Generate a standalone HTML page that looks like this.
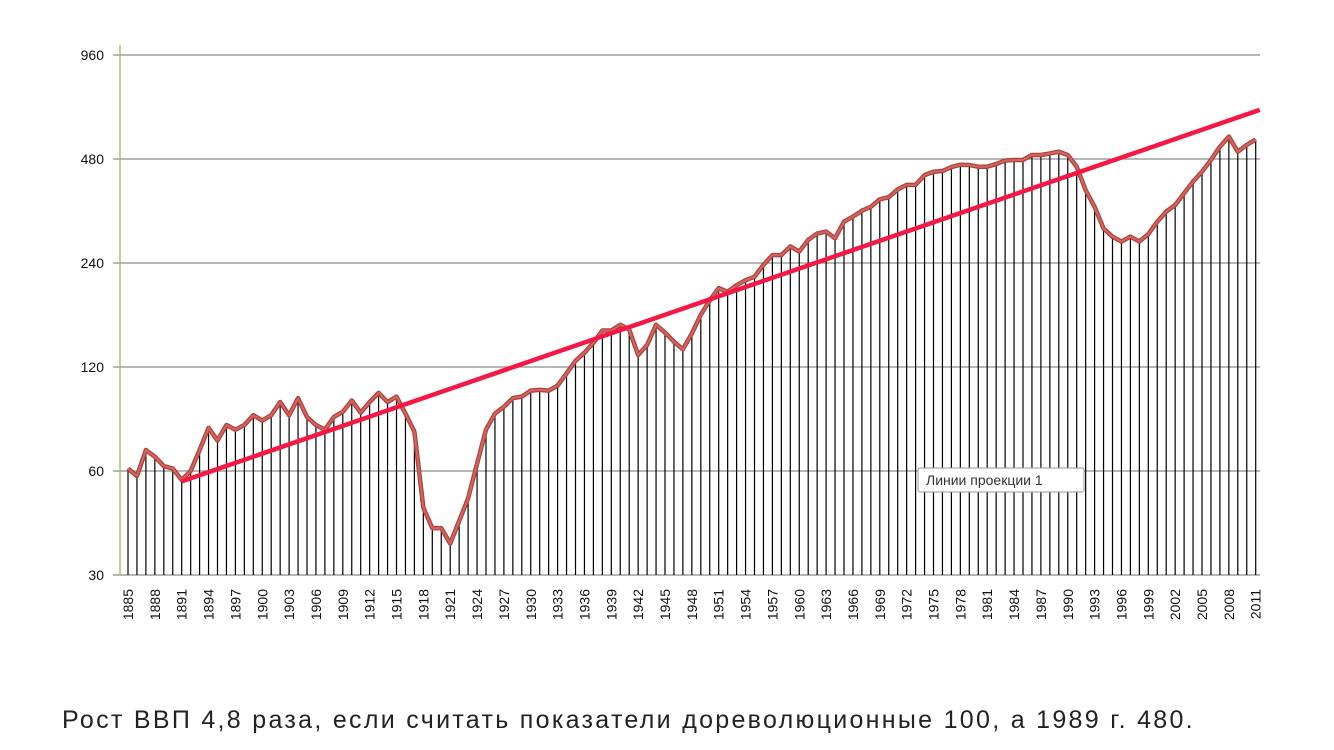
<!DOCTYPE html>
<html><head><meta charset="utf-8">
<style>
body{margin:0;width:1334px;height:750px;background:#fff;overflow:hidden;position:relative;font-family:"Liberation Sans",sans-serif}
#title{position:absolute;left:62px;top:-34px;font-size:32px;color:#222;white-space:nowrap}
#caption{position:absolute;left:62px;top:706px;font-size:25px;letter-spacing:2.3px;color:#222;white-space:nowrap}
</style></head><body>
<div id="title">Рост ВВП России за 126 лет</div>
<svg id="chart" width="1334" height="700" style="position:absolute;left:0;top:0"></svg>
<div id="caption">Рост ВВП 4,8 раза, если считать показатели дореволюционные 100, а 1989 г. 480.</div>
<script>
const startYear = 1885;
const values = [61,58,69,66,62,61,56.5,60,69,80,73.5,81.5,79,81.5,87,84,87,95,87,97.5,86,81.5,79,86,89,96,88.5,95,101,95,98.5,88,78,47,41,41,37,43,50,63,79,88,92,97.5,98.5,102.5,103,102.5,106,115,125,132,141,153,153,159,154,130,139,159,151,142,135,150,170,187,203,198,207,214,219,237,253,253,268,259,280,292,296,283,316,327,340,349,367,372,392,404,404,431,441,443,455,462,461,456,456,464,475,477,477,493,493,498,504,493,456,390,349,302,286,277,286,277,291,316,338,353,382,413,441,477,521,557,504,527,547];
const yTicks = [30,60,120,240,480,960];
const trendYears = [1891,2011];
const trendValues = [56,666];
const NS="http://www.w3.org/2000/svg";
const svg=document.getElementById('chart');
const x0=128, pxYear=8.95, yBase=575, pxDouble=104;
const X=yr=>x0+(yr-startYear)*pxYear;
const Y=v=>yBase-pxDouble*Math.log2(v/30);
function mk(t,a){const e=document.createElementNS(NS,t);for(const k in a)e.setAttribute(k,a[k]);svg.appendChild(e);return e;}
yTicks.forEach(t=>{
  const g=mk('line',{x1:113,x2:1260,y1:Y(t),y2:Y(t),stroke:'#8c8c8c','stroke-width':1.3});
  
  
  const l=mk('text',{x:104,y:Y(t)+5,'text-anchor':'end','font-size':14,fill:'#111'});
  l.textContent=t;
  
  
});
const ax=mk('line',{x1:120,x2:120,y1:45,y2:yBase,stroke:'#9bbb59','stroke-width':1.3});


values.forEach((v,i)=>{
  const d=mk('line',{x1:X(startYear+i),x2:X(startYear+i),y1:Y(v),y2:yBase,stroke:'#000','stroke-width':1.2});
  
  
  const yr=startYear+i;
  if((yr-startYear)%3===0){
    const t=mk('text',{x:0,y:0,'text-anchor':'end','font-size':14,fill:'#111',transform:`translate(${X(yr)+5},${yBase+14}) rotate(-90)`});
    t.textContent=yr;
    
    
  }
});
const pts=values.map((v,i)=>X(startYear+i)+','+Y(v)).join(' ');
const s1=mk('polyline',{points:pts,fill:'none',stroke:'#a8443f','stroke-width':4.5,'stroke-linejoin':'round'});


const s2=mk('polyline',{points:pts,fill:'none',stroke:'#d9625c','stroke-width':2,'stroke-linejoin':'round'});


const tr=mk('line',{x1:X(trendYears[0]),y1:Y(trendValues[0]),x2:X(trendYears[1])+4,y2:Y(trendValues[1]),stroke:'#f51844','stroke-width':4.5});


const tb=mk('rect',{x:918,y:468,width:166,height:24,fill:'#fff',stroke:'#999','stroke-width':1,rx:2});


const tt=mk('text',{x:926,y:485,'font-size':14,fill:'#333'});
tt.textContent='Линии проекции 1';


</script>
</body></html>
